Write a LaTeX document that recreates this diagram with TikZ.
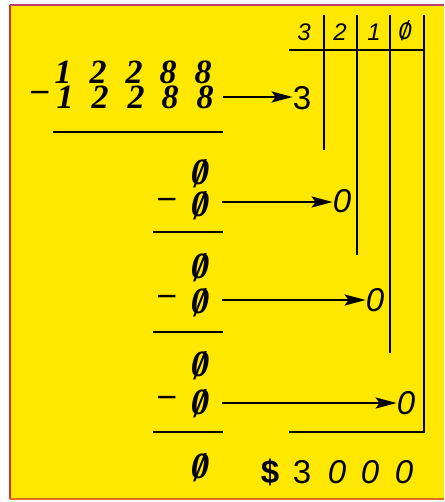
\documentclass[tikz,border=0pt]{standalone}
\usepackage{fontspec}
\newfontfamily\hand{Liberation Sans}
\newfontfamily\curs{Liberation Serif}
\usetikzlibrary{arrows.meta}
\definecolor{pad}{RGB}{255,232,0}
\definecolor{edgeL}{RGB}{205,50,60}
\definecolor{edgeT}{RGB}{190,60,110}
\definecolor{edgeB}{RGB}{225,110,30}
\newcommand{\sz}{\ooalign{\hfil0\hfil\cr\hfil\raisebox{-0.06em}{\scalebox{0.9}[1.15]{/}}\hfil}}
\tikzset{
  ink/.style={line width=2.2pt, black},
  arr/.style={ink, -{Stealth[length=21pt,width=11pt,inset=4pt]}},
  big/.style={inner sep=0pt, font=\curs\fontsize{34}{34}\selectfont\bfseries\itshape},
  zer/.style={inner sep=0pt, font=\curs\fontsize{37}{37}\selectfont\bfseries\itshape},
  rgt/.style={inner sep=0pt, font=\hand\fontsize{33}{33}\selectfont\itshape},
  rup/.style={inner sep=0pt, font=\hand\fontsize{33}{33}\selectfont},
  hdr/.style={inner sep=0pt, font=\hand\fontsize{24}{24}\selectfont\itshape},
}
\begin{document}
\begin{tikzpicture}[x=1pt,y=-1pt]
\useasboundingbox (0,0) rectangle (444,502);
\fill[white] (0,0) rectangle (444,502);
\fill[pad] (10,5) rectangle (444,499);
\draw[edgeL, line width=1.5pt] (10,5) -- (10,499);
\draw[edgeT, line width=1.5pt] (10,5) -- (444,5);
\draw[edgeB, line width=2pt] (10,499) -- (444,499);

% first subtraction
\node[big] (a1) at (63,72) {1};
\node[big] (a2) at (98,72) {2};
\node[big] (a3) at (134,72) {2};
\node[big] (a4) at (168,72) {8};
\node[big] (a5) at (203,72) {8};
\node[big] (m0) at (40,96) {–};
\node[big] (b1) at (65,97) {1};
\node[big] (b2) at (100,97) {2};
\node[big] (b3) at (136,97) {2};
\node[big] (b4) at (170,97) {8};
\node[big] (b5) at (205,97) {8};
\coordinate (u1a) at (53,132); \coordinate (u1b) at (223,132);
\draw[ink] (u1a) -- (u1b);
\coordinate (s1) at (223,97);
\node[rup] (q3) at (302,98) {3};
\draw[arr] (s1) -- (s1 -| q3.west);

% second
\node[zer] (c1) at (200,174) {\sz};
\node[big] (m1) at (167,203) {–};
\node[zer] (c2) at (200,206) {\sz};
\coordinate (u2a) at (153,232); \coordinate (u2b) at (223,232);
\draw[ink] (u2a) -- (u2b);
\coordinate (s2) at (222,202);
\node[rgt] (q2) at (342,201) {0};
\draw[arr] (s2) -- (s2 -| q2.west);

% third
\node[zer] (d1) at (200,268) {\sz};
\node[big] (m2) at (167,300) {–};
\node[zer] (d2) at (200,303) {\sz};
\coordinate (u3a) at (153,332); \coordinate (u3b) at (223,332);
\draw[ink] (u3a) -- (u3b);
\coordinate (s3) at (222,300);
\node[rgt] (q1) at (375,300) {0};
\draw[arr] (s3) -- (s3 -| q1.west);

% fourth
\node[zer] (e1) at (200,366) {\sz};
\node[big] (m3) at (167,401) {–};
\node[zer] (e2) at (200,404) {\sz};
\coordinate (u4a) at (153,432); \coordinate (u4b) at (223,432);
\draw[ink] (u4a) -- (u4b);
\coordinate (s4) at (222,403);
\node[rgt] (q0) at (406,403) {0};
\draw[arr] (s4) -- (s4 -| q0.west);
\node[zer] (f1) at (200,468) {\sz};

% right table
\node[hdr] (h3) at (304,32) {3};
\node[hdr] (h2) at (340,32) {2};
\node[hdr] (h1) at (374,32) {1};
\node[hdr] (h0) at (405,32) {\sz};
\coordinate (t1) at (324,15); \coordinate (e1b) at (324,150);
\coordinate (t2) at (357,15); \coordinate (e2b) at (357,255);
\coordinate (t3) at (390,15); \coordinate (e3b) at (390,353);
\coordinate (t4) at (424,15); \coordinate (e4b) at (424,432);
\coordinate (hl) at (289,50); \coordinate (hr) at (424,50);
\coordinate (bl) at (289,432);
\draw[ink] (t1) -- (e1b);
\draw[ink] (t2) -- (e2b);
\draw[ink] (t3) -- (e3b);
\draw[ink] (t4) -- (e4b) -- (bl);
\draw[ink] (hl) -- (hr);

% result
\node[rup, font=\hand\fontsize{33}{33}\selectfont\bfseries] (dol) at (270,472) {\$};
\node[rup] (r3) at (302,472) {3};
\node[rgt] (r2) at (337,472) {0};
\node[rgt] (r1) at (370,472) {0};
\node[rgt] (r0) at (404,472) {0};
\end{tikzpicture}
\end{document}
